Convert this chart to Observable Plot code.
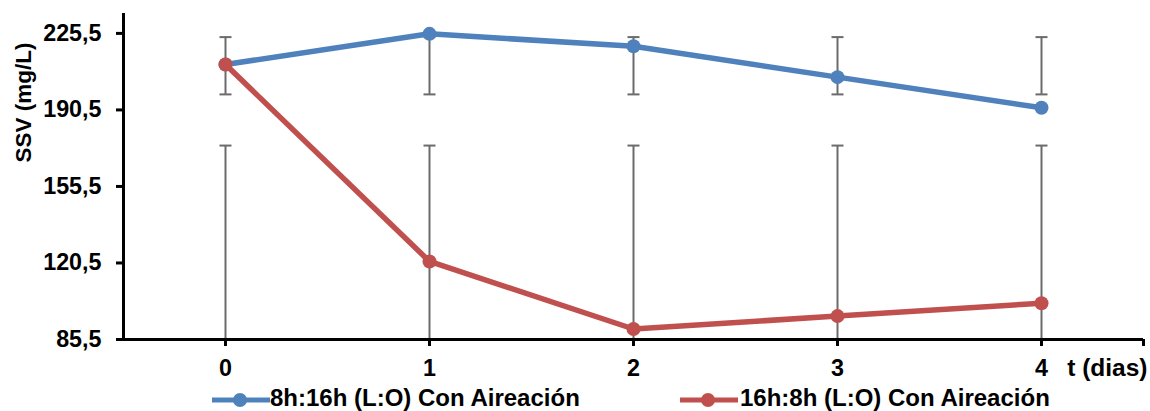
<!DOCTYPE html>
<html><head><meta charset="utf-8">
<script src="https://cdn.jsdelivr.net/npm/d3@7"></script>
<script src="https://cdn.jsdelivr.net/npm/@observablehq/plot@0.6"></script>
<style>
body{margin:0;background:#fff;font-family:"Liberation Sans",Arial,sans-serif;font-weight:bold;color:#000;}
#chart svg{display:block;}
#legend{position:relative;width:1150px;height:26px;font-size:24px;}
.item{position:absolute;top:0;height:26px;display:flex;align-items:center;white-space:nowrap;line-height:26px;}
</style></head><body>
<div id="chart"></div><div id="legend"></div>
<script>
// ---- data ----
const days = [0, 1, 2, 3, 4];
const seriesNames = ["8h:16h (L:O) Con Aireación", "16h:8h (L:O) Con Aireación"];
const seriesColors = ["#4F81BD", "#C0504D"];
const blueValues = [211.3, 225.3, 219.6, 205.5, 191.5];
const redValues = [211.3, 121.2, 90.3, 96.2, 102.1];
const blueErrLow = [197.6, 197.6, 197.6, 197.6, 197.6];
const blueErrHigh = [223.8, 223.8, 223.8, 223.8, 223.8];
const redErrLow = [85.5, 85.5, 85.5, 85.5, 85.5];
const redErrHigh = [174.2, 174.2, 174.2, 174.2, 174.2];
const yTicks = [85.5, 120.5, 155.5, 190.5, 225.5];
const yMax = 234.6;
const xLabel = "t (dias)";
const yLabel = "SSV (mg/L)";

const blueData = days.map((d, i) => ({day: d, v: blueValues[i], lo: blueErrLow[i], hi: blueErrHigh[i]}));
const redData = days.map((d, i) => ({day: d, v: redValues[i], lo: redErrLow[i], hi: redErrHigh[i]}));
const errData = blueData.concat(redData);

const capSymbol = {draw(ctx, size) { const r = Math.sqrt(size / Math.PI); ctx.moveTo(-r, 0); ctx.lineTo(r, 0); }};
const errColor = "#6b6b6b";
const fmt = d => d.toFixed(1).replace(".", ",");

const chart = Plot.plot({
  width: 1150,
  height: 385,
  marginLeft: 123,
  marginRight: 7,
  marginTop: 13,
  marginBottom: 46,
  style: {fontFamily: '"Liberation Sans", Arial, sans-serif', fontSize: "23.3px", fontWeight: "bold", color: "#000", background: "#fff"},
  x: {domain: [days[0] - 0.5, days[days.length - 1] + 0.5]},
  y: {domain: [yTicks[0], yMax]},
  marks: [
    Plot.ruleX(errData, {x: "day", y1: "lo", y2: "hi", stroke: errColor, strokeWidth: 2}),
    Plot.dot(errData, {x: "day", y: "hi", symbol: capSymbol, r: 6, stroke: errColor, fill: "none", strokeWidth: 2}),
    Plot.dot(errData, {x: "day", y: "lo", symbol: capSymbol, r: 6, stroke: errColor, fill: "none", strokeWidth: 2}),
    Plot.ruleY([yTicks[0]], {stroke: "#000", strokeWidth: 3}),
    Plot.ruleX([days[0] - 0.5], {stroke: "#000", strokeWidth: 3}),
    Plot.axisY({ticks: yTicks, tickFormat: fmt, tickSize: 7, tickPadding: 15, strokeWidth: 3, label: null}),
    Plot.axisX({ticks: days.concat([days[days.length - 1] + 0.5]), tickFormat: d => days.includes(d) ? String(d) : "", tickSize: 7, tickPadding: 13, strokeWidth: 3, label: null}),
    Plot.line(blueData, {x: "day", y: "v", stroke: seriesColors[0], strokeWidth: 5.5}),
    Plot.dot(blueData, {x: "day", y: "v", fill: seriesColors[0], r: 7}),
    Plot.line(redData, {x: "day", y: "v", stroke: seriesColors[1], strokeWidth: 5.5}),
    Plot.dot(redData, {x: "day", y: "v", fill: seriesColors[1], r: 7}),
    Plot.text([xLabel], {frameAnchor: "bottom-right", textAnchor: "end", dx: 4, dy: 36, fontSize: 24.5, fontWeight: "bold", fill: "#000"}),
    Plot.text([yLabel], {frameAnchor: "left", rotate: -90, dx: -100, dy: -14, fontSize: 22.5, fontWeight: "bold", fill: "#000"})
  ]
});
document.getElementById("chart").appendChild(chart);

// ---- legend ----
const legend = document.getElementById("legend");
const legendPos = [{sw: 212, tx: 270}, {sw: 680, tx: 740}];
seriesNames.forEach((name, i) => {
  const sw = document.createElement("div");
  sw.className = "item";
  sw.style.left = legendPos[i].sw + "px";
  sw.innerHTML = `<svg width="58" height="26"><line x1="0" x2="58" y1="15" y2="15" stroke="${seriesColors[i]}" stroke-width="5"/><circle cx="28" cy="15" r="7" fill="${seriesColors[i]}"/></svg>`;
  legend.appendChild(sw);
  const tx = document.createElement("div");
  tx.className = "item";
  tx.style.left = legendPos[i].tx + "px";
  tx.textContent = name;
  legend.appendChild(tx);
});
</script>
</body></html>
